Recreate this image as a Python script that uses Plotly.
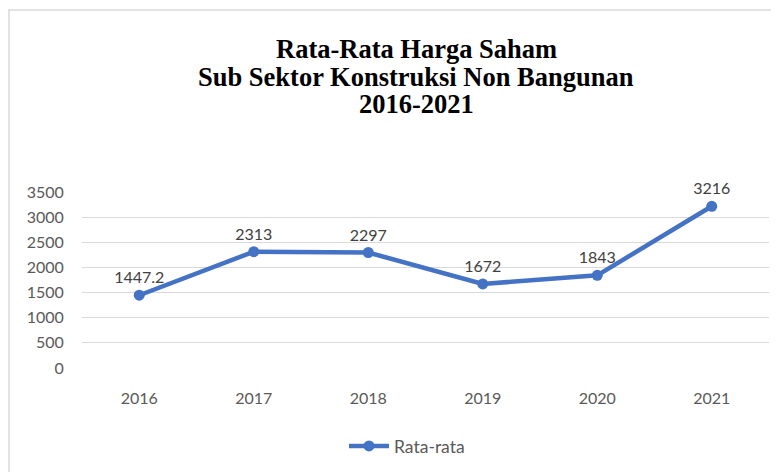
import plotly.graph_objects as go

years = ["2016", "2017", "2018", "2019", "2020", "2021"]
values = [1447.2, 2313, 2297, 1672, 1843, 3216]
labels = ["1447.2", "2313", "2297", "1672", "1843", "3216"]
y_ticks = [0, 500, 1000, 1500, 2000, 2500, 3000, 3500]
title_lines = ["Rata-Rata Harga Saham", "Sub Sektor Konstruksi Non Bangunan", "2016-2021"]

OFF = 8  # default page body margin
W, H = 779 - OFF, 472 - OFF
L, R, T, B = 82 - OFF, 10, 192 - OFF, 103
pw, ph = W - L - R, H - T - B

def px_x(x):
    return (x - OFF - L) / pw

def px_y(y):
    return (H + OFF - B - y) / ph

fig = go.Figure()
fig.add_trace(go.Scatter(
    x=years, y=values, mode="lines+markers+text", name="Rata-rata",
    text=labels, textposition="top center",
    textfont=dict(family="Lato", size=16, color="#404040"),
    line=dict(color="#4472C4", width=4.5),
    marker=dict(color="#4472C4", size=11),
    cliponaxis=False,
))

annotations = []
for i, line in enumerate(title_lines):
    annotations.append(dict(
        text="<b>" + line + "</b>",
        xref="paper", yref="paper", x=px_x(416), y=px_y(48 + 28 * i),
        xanchor="center", yanchor="middle", showarrow=False,
        font=dict(family="Liberation Serif, Times New Roman, serif", size=26.5, color="black"),
    ))

fig.update_layout(
    width=W, height=H,
    margin=dict(l=L, r=R, t=T, b=B),
    paper_bgcolor="white", plot_bgcolor="white",
    showlegend=True,
    legend=dict(orientation="h", x=px_x(407), xanchor="center",
                y=px_y(446), yanchor="middle", itemwidth=40,
                font=dict(family="Lato", size=17.5, color="#595959")),
    xaxis=dict(type="category", range=[-0.5, 5.5], showgrid=False, showline=False,
               zeroline=False,
               tickfont=dict(family="Lato", size=16, color="#595959"),
               ticks="outside", ticklen=16, tickcolor="rgba(0,0,0,0)"),
    yaxis=dict(range=[0, 3500], tickvals=y_ticks, showgrid=True,
               gridcolor="#D9D9D9", gridwidth=1, zeroline=False, showline=False,
               tickfont=dict(family="Lato", size=16, color="#595959"),
               ticks="outside", ticklen=14, tickcolor="rgba(0,0,0,0)"),
    annotations=annotations,
    shapes=[dict(type="rect", xref="paper", yref="paper",
                 x0=px_x(9), x1=px_x(800), y0=px_y(500), y1=px_y(9),
                 line=dict(color="#D9D9D9", width=1.5), fillcolor="rgba(0,0,0,0)",
                 layer="below")],
)

fig.write_html("out.html")
